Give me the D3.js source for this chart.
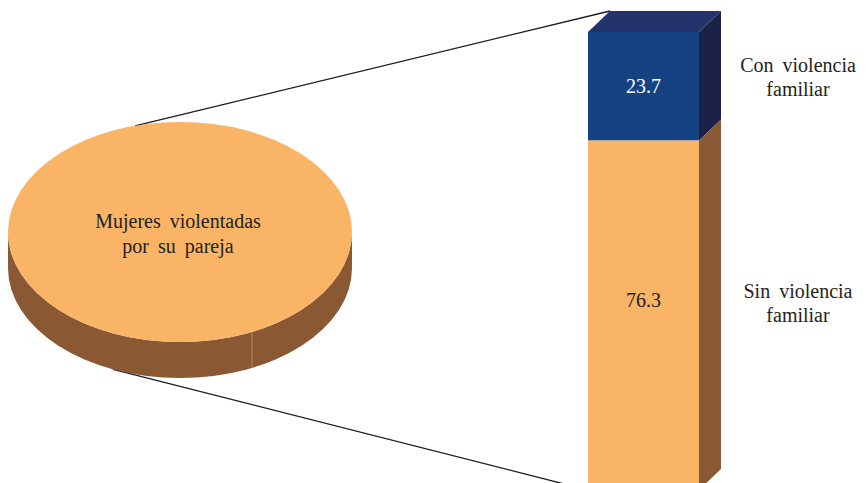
<!DOCTYPE html>
<html>
  <head>
    <meta charset="utf-8">
    <title>Mujeres violentadas por su pareja</title>
    <script src="https://d3js.org/d3.v7.min.js"></script>
  </head>
  <body style="margin:0; background:#fff">
    <svg id="chart" width="866" height="483" font-family="Liberation Serif" style="font-family:'Liberation Serif'"></svg>
    <script>
      // data
      const pieLabel = ["Mujeres violentadas", "por su pareja"];
      const categories = ["Con violencia familiar", "Sin violencia familiar"];
      const values = [23.7, 76.3];
      const labelLines = [["Con violencia", "familiar"], ["Sin violencia", "familiar"]];

      const chart = d3.select("#chart");

      // serif text, extra gap between words via tspans
      function addText(parent, str, x, y, fill) {
        const t = parent.append("text")
          .attr("x", x).attr("y", y)
          .attr("text-anchor", "middle")
          .attr("fill", fill)
          .style("font-family", "'Liberation Serif'")
          .style("font-size", "20px");
        str.split(" ").forEach(function(w, i) {
          t.append("tspan")
            .attr("dx", i > 0 ? 4 : 0)
            .text((i > 0 ? " " : "") + w);
        });
        return t;
      }

      const pie = { cx: 180, cy: 232, rx: 172, ry: 110, depth: 36 };
      const bar = { x0: 588, x1: 699, top: 32, bottom: 490, dx: 22, dy: -21 };
      const colors = {
        orange: "#f9b466", brown: "#8a5833",
        blue: "#154283", blueTop: "#22346b", blueSide: "#1c2148"
      };

      // connector lines (drawn first, under shapes)
      const angTop = Math.acos(-45 / pie.rx);
      const angBot = Math.acos(-67 / pie.rx);
      chart.append("line")
        .attr("x1", pie.cx + pie.rx * Math.cos(angTop))
        .attr("y1", pie.cy - pie.ry * Math.sin(angTop))
        .attr("x2", bar.x0 + bar.dx)
        .attr("y2", bar.top + bar.dy)
        .attr("stroke", "#1a1a1a").attr("stroke-width", 1.3);
      chart.append("line")
        .attr("x1", pie.cx + pie.rx * Math.cos(angBot))
        .attr("y1", pie.cy + pie.depth + pie.ry * Math.sin(angBot))
        .attr("x2", bar.x0)
        .attr("y2", bar.bottom)
        .attr("stroke", "#1a1a1a").attr("stroke-width", 1.3);

      // pie (3d ellipse)
      const pieG = chart.append("g");
      pieG.append("path")
        .attr("d", "M" + (pie.cx - pie.rx) + "," + pie.cy +
          "L" + (pie.cx - pie.rx) + "," + (pie.cy + pie.depth) +
          "A" + pie.rx + "," + pie.ry + " 0 0 0 " + (pie.cx + pie.rx) + "," + (pie.cy + pie.depth) +
          "L" + (pie.cx + pie.rx) + "," + pie.cy +
          "A" + pie.rx + "," + pie.ry + " 0 0 1 " + (pie.cx - pie.rx) + "," + pie.cy + "Z")
        .attr("fill", colors.brown);
      // slice seam on the side
      const seamX = 252;
      const seamDy = pie.ry * Math.sqrt(1 - Math.pow((seamX - pie.cx) / pie.rx, 2));
      pieG.append("line")
        .attr("x1", seamX).attr("x2", seamX)
        .attr("y1", pie.cy + seamDy).attr("y2", pie.cy + seamDy + pie.depth)
        .attr("stroke", "#b08a6a").attr("stroke-width", 1);
      pieG.append("ellipse")
        .attr("cx", pie.cx).attr("cy", pie.cy)
        .attr("rx", pie.rx).attr("ry", pie.ry)
        .attr("fill", colors.orange);
      pieLabel.forEach(function(d, i) {
        addText(pieG, d, 178, 228 + i * 25, "#231f20");
      });

      // stacked bar
      const y = d3.scaleLinear().domain([0, 100]).range([bar.top, bar.bottom]);
      const stacked = [];
      let acc = 0;
      values.forEach(function(v, i) {
        stacked.push({ cat: categories[i], value: v, y0: acc, y1: acc + v, lines: labelLines[i] });
        acc += v;
      });
      const fronts = [colors.blue, colors.orange];
      const sides = [colors.blueSide, colors.brown];

      const barG = chart.append("g");
      // side faces
      barG.selectAll("path.side")
        .data(stacked)
        .enter().append("path")
          .attr("fill", function(d, i) { return sides[i]; })
          .attr("d", function(d) {
            const a = y(d.y0), b = y(d.y1);
            return "M" + bar.x1 + "," + a + "L" + (bar.x1 + bar.dx) + "," + (a + bar.dy) +
              "L" + (bar.x1 + bar.dx) + "," + (b + bar.dy) + "L" + bar.x1 + "," + b + "Z";
          });
      // top face
      barG.append("path")
        .attr("fill", colors.blueTop)
        .attr("d", "M" + bar.x0 + "," + bar.top + "L" + (bar.x0 + bar.dx) + "," + (bar.top + bar.dy) +
          "L" + (bar.x1 + bar.dx) + "," + (bar.top + bar.dy) + "L" + bar.x1 + "," + bar.top + "Z");
      // front faces
      barG.selectAll("rect.front")
        .data(stacked)
        .enter().append("rect")
          .attr("x", bar.x0)
          .attr("width", bar.x1 - bar.x0)
          .attr("y", function(d) { return y(d.y0); })
          .attr("height", function(d) { return y(d.y1) - y(d.y0); })
          .attr("fill", function(d, i) { return fronts[i]; });
      // values and category labels
      stacked.forEach(function(d, i) {
        addText(barG, d.value.toFixed(1), (bar.x0 + bar.x1) / 2, i === 0 ? 93 : 307,
          i === 0 ? "#ffffff" : "#231f20");
        d.lines.forEach(function(t, j) {
          addText(barG, t, 798, (i === 0 ? 72 : 298) + j * 24, "#231f20");
        });
      });
    </script>
  </body>
</html>
